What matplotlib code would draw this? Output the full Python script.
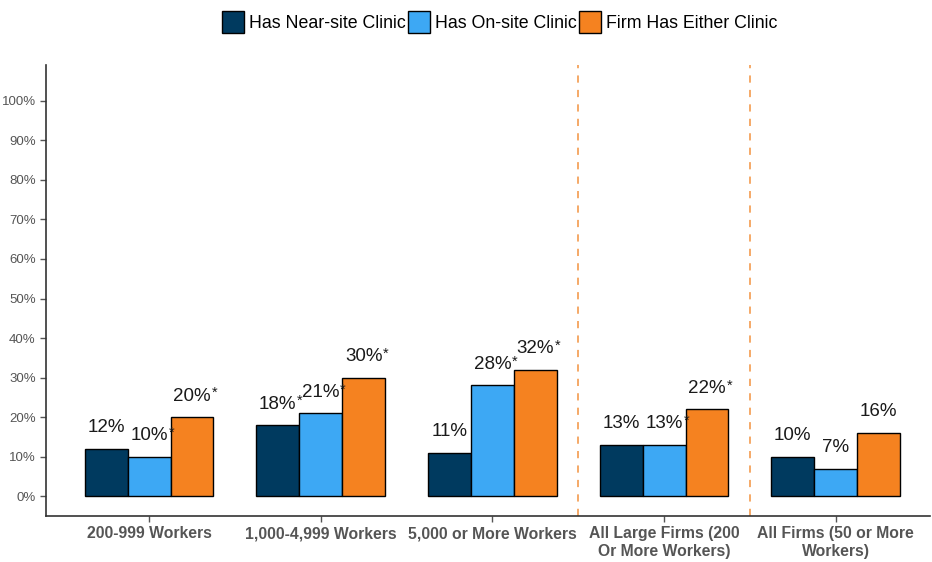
import matplotlib
matplotlib.use("Agg")
import matplotlib.pyplot as plt
import numpy as np

plt.rcParams['font.family'] = ['Liberation Sans', 'DejaVu Sans']

categories = ["200-999 Workers", "1,000-4,999 Workers", "5,000 or More Workers",
              "All Large Firms (200\nOr More Workers)", "All Firms (50 or More\nWorkers)"]
series_names = ["Has Near-site Clinic", "Has On-site Clinic", "Firm Has Either Clinic"]
near_site = [12, 18, 11, 13, 10]
on_site = [10, 21, 28, 13, 7]
either = [20, 30, 32, 22, 16]
near_star = [False, True, False, False, False]
on_star = [True, True, True, True, False]
either_star = [True, True, True, True, False]
yticks = list(range(0, 101, 10))

colors = ["#003A5F", "#3DA8F4", "#F58220"]
values = [near_site, on_site, either]
stars = [near_star, on_star, either_star]

fig = plt.figure(figsize=(9.32, 5.62), dpi=100)
ax = fig.add_axes([0.0494, 0.0819, 0.9486, 0.802])

x = np.arange(len(categories))
w = 0.25
for i, (vals, col, name) in enumerate(zip(values, colors, series_names)):
    pos = x + (i - 1) * w
    ax.bar(pos, vals, width=w, color=col, edgecolor="black", linewidth=1.0, label=name, zorder=3)

for i, (vals, st) in enumerate(zip(values, stars)):
    pos = x + (i - 1) * w
    for p, v, s in zip(pos, vals, st):
        t = ax.annotate(f"{v}%", xy=(p, v), xytext=(0, 9), textcoords="offset points",
                        ha="center", va="bottom", fontsize=13.5, color="#1a1a1a", zorder=6)
        if s:
            ax.annotate("*", xy=(1, 1), xycoords=t, xytext=(0.5, 1), textcoords="offset points",
                        ha="left", va="top", fontsize=10.5, color="#1a1a1a", zorder=7)

for xv in [2.5, 3.5]:
    ax.axvline(xv, color="#F5A35C", linestyle=(0, (4, 4)), linewidth=1.3, zorder=1)

ax.set_xlim(-0.6, 4.55)
ax.set_ylim(-5, 109)
ax.set_yticks(yticks)
ax.set_yticklabels([f"{t}%" for t in yticks], fontsize=9.5, color="#555555")
ax.set_xticks(x)
ax.set_xticklabels(categories, fontsize=11.3, fontweight="bold", color="#555555")
ax.tick_params(axis="both", colors="#555555", length=4, width=1)
for sp in ["top", "right"]:
    ax.spines[sp].set_visible(False)
for sp in ["left", "bottom"]:
    ax.spines[sp].set_color("#333333")
    ax.spines[sp].set_linewidth(1.2)

leg = fig.legend(loc="center", bbox_to_anchor=(0.536, 0.961), ncol=3, frameon=False,
                 fontsize=12.8, handlelength=1.25, handleheight=1.55, handletextpad=0.3,
                 columnspacing=0.1)

fig.savefig("out.png", dpi=100)
